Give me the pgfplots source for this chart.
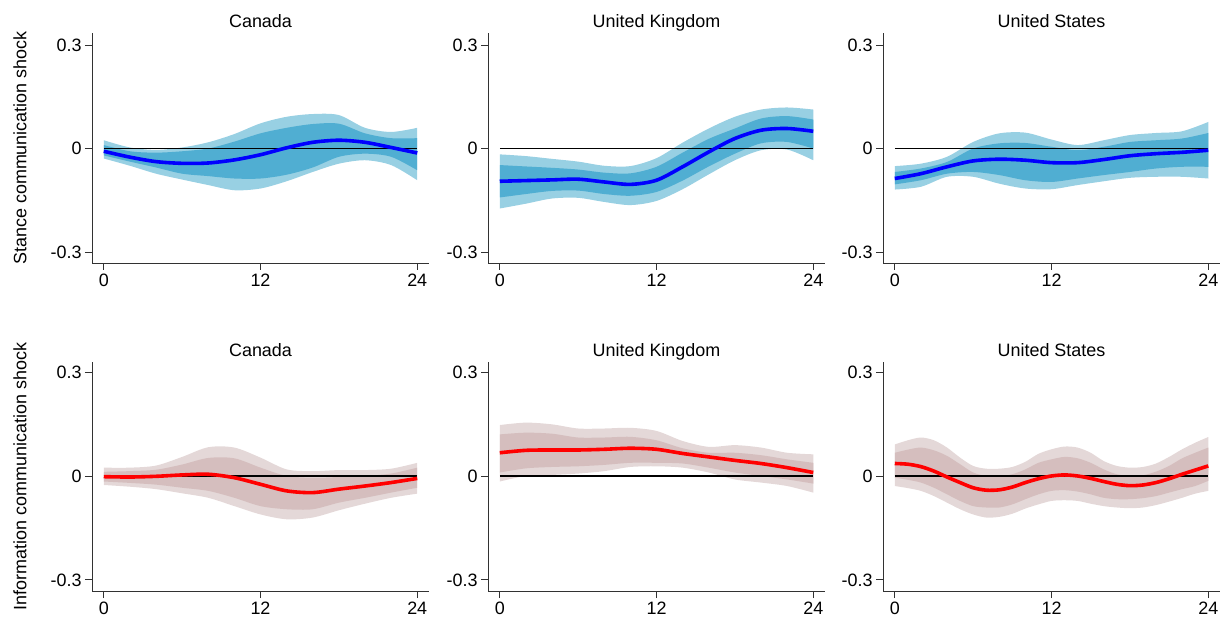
\documentclass[border=0pt]{standalone}
\usepackage{pgfplots}
\pgfplotsset{compat=1.18}
\usepackage{pgfplotstable}
\usepgfplotslibrary{fillbetween}
\usepackage{fontspec}
\setmainfont{Liberation Sans}

\definecolor{bOut}{RGB}{152,208,227}
\definecolor{bIn}{RGB}{80,174,210}
\definecolor{rOut}{RGB}{228,216,216}
\definecolor{rIn}{RGB}{213,190,190}
\definecolor{axgray}{RGB}{50,50,50}

\pgfplotstableread{
m c ou iu il ol
0 -0.008 0.024 0.010 -0.020 -0.029
2 -0.025 0.003 -0.008 -0.038 -0.050
4 -0.038 -0.004 -0.012 -0.055 -0.073
6 -0.043 0.003 -0.008 -0.073 -0.090
8 -0.042 0.018 0.000 -0.080 -0.106
10 -0.033 0.042 0.020 -0.087 -0.121
12 -0.018 0.073 0.044 -0.087 -0.116
14 0.002 0.092 0.060 -0.076 -0.095
16 0.018 0.100 0.071 -0.055 -0.068
18 0.024 0.097 0.072 -0.024 -0.044
20 0.018 0.060 0.044 -0.015 -0.034
22 0.003 0.048 0.030 -0.024 -0.048
24 -0.013 0.060 0.030 -0.063 -0.092
}\tA

\pgfplotstableread{
m c ou iu il ol
0 -0.095 -0.017 -0.048 -0.142 -0.174
2 -0.093 -0.022 -0.052 -0.132 -0.160
4 -0.091 -0.030 -0.056 -0.123 -0.145
6 -0.089 -0.038 -0.061 -0.122 -0.143
8 -0.097 -0.050 -0.070 -0.132 -0.155
10 -0.104 -0.051 -0.072 -0.137 -0.164
12 -0.092 -0.028 -0.053 -0.126 -0.152
14 -0.053 0.017 -0.012 -0.093 -0.118
16 -0.010 0.058 0.028 -0.052 -0.075
18 0.029 0.092 0.058 -0.015 -0.034
20 0.053 0.113 0.087 0.015 -0.005
22 0.058 0.119 0.094 0.019 -0.003
24 0.050 0.113 0.084 0.000 -0.034
}\tB

\pgfplotstableread{
m c ou iu il ol
0 -0.087 -0.051 -0.068 -0.104 -0.119
2 -0.073 -0.044 -0.058 -0.092 -0.111
4 -0.053 -0.024 -0.039 -0.073 -0.082
6 -0.036 0.019 0.000 -0.068 -0.082
8 -0.031 0.044 0.015 -0.077 -0.102
10 -0.034 0.046 0.016 -0.092 -0.116
12 -0.041 0.026 0.005 -0.097 -0.118
14 -0.041 0.010 -0.005 -0.087 -0.106
16 -0.032 0.024 0.005 -0.077 -0.095
18 -0.021 0.039 0.019 -0.068 -0.085
20 -0.015 0.045 0.024 -0.058 -0.082
22 -0.011 0.050 0.029 -0.053 -0.082
24 -0.005 0.077 0.045 -0.053 -0.087
}\tC

\pgfplotstableread{
m c ou iu il ol
0 -0.002 0.024 0.012 -0.016 -0.026
2 -0.003 0.024 0.014 -0.020 -0.031
4 -0.001 0.030 0.018 -0.025 -0.038
6 0.003 0.055 0.033 -0.034 -0.050
8 0.005 0.083 0.052 -0.043 -0.063
10 -0.005 0.082 0.051 -0.063 -0.087
12 -0.024 0.053 0.024 -0.087 -0.111
14 -0.043 0.019 0.000 -0.096 -0.125
16 -0.048 0.014 -0.005 -0.096 -0.120
18 -0.038 0.017 -0.003 -0.077 -0.099
20 -0.029 0.017 0.000 -0.063 -0.080
22 -0.019 0.021 0.007 -0.048 -0.063
24 -0.007 0.038 0.024 -0.034 -0.051
}\tD

\pgfplotstableread{
m c ou iu il ol
0 0.067 0.147 0.120 0.010 -0.016
2 0.074 0.154 0.125 0.022 0.000
4 0.075 0.149 0.122 0.026 0.003
6 0.075 0.137 0.111 0.028 0.007
8 0.077 0.137 0.111 0.032 0.014
10 0.080 0.139 0.113 0.038 0.026
12 0.077 0.130 0.103 0.038 0.028
14 0.065 0.101 0.080 0.036 0.024
16 0.055 0.084 0.067 0.024 0.010
18 0.045 0.089 0.067 0.010 -0.010
20 0.036 0.082 0.060 0.000 -0.019
22 0.024 0.067 0.048 -0.010 -0.029
24 0.010 0.0625 0.038 -0.022 -0.048
}\tE

\pgfplotstableread{
m c ou iu il ol
0 0.036 0.091 0.067 -0.005 -0.029
1 0.034 0.103 0.076 -0.011 -0.035
2 0.027 0.111 0.082 -0.019 -0.043
3 0.014 0.103 0.074 -0.034 -0.058
4 -0.003 0.082 0.058 -0.053 -0.077
5 -0.019 0.053 0.034 -0.072 -0.096
6 -0.034 0.029 0.010 -0.087 -0.111
7 -0.041 0.021 0.000 -0.091 -0.120
8 -0.040 0.021 -0.001 -0.091 -0.118
9 -0.032 0.026 0.005 -0.082 -0.109
10 -0.019 0.041 0.019 -0.067 -0.094
11 -0.008 0.064 0.038 -0.053 -0.082
12 0.000 0.077 0.048 -0.043 -0.072
13 0.003 0.085 0.055 -0.041 -0.070
14 0.000 0.082 0.051 -0.045 -0.072
15 -0.007 0.067 0.038 -0.053 -0.080
16 -0.016 0.043 0.019 -0.063 -0.087
17 -0.024 0.029 0.005 -0.067 -0.091
18 -0.028 0.024 0.000 -0.067 -0.093
19 -0.026 0.026 0.002 -0.064 -0.091
20 -0.019 0.036 0.0125 -0.058 -0.084
21 -0.008 0.055 0.029 -0.048 -0.074
22 0.005 0.077 0.051 -0.038 -0.063
23 0.017 0.096 0.067 -0.029 -0.051
24 0.029 0.1125 0.082 -0.014 -0.043
}\tF

\pgfplotsset{
  panel/.style={
    scale only axis, width=337bp, height=230bp,
    xmin=-0.9, xmax=24.9, ymin=-0.332, ymax=0.335,
    axis x line*=bottom, axis y line*=left,
    axis line style={-, axgray, line width=0.9bp},
    xtick={0,12,24}, ytick={-0.3,0,0.3},
    yticklabels={-0.3,0,0.3},
    tick align=outside, major tick length=7bp,
    tick style={axgray, line width=0.9bp},
    every tick label/.append style={font=\fontsize{18}{21}\selectfont},
    /pgf/number format/assume math mode=true,
    title style={font=\fontsize{18}{21}\selectfont, at={(0.5,1)}, anchor=base, yshift=0bp},
    ylabel style={font=\fontsize{18}{21}\selectfont, at={(axis description cs:-0.2136,0.5)}, anchor=center},
    no markers,
  },
  bottomrow/.style={height=229bp, ymax=0.329},
}

\newcommand{\bands}[4]{%
  \addplot[name path=ou, draw=none, smooth] table[x=m,y=ou]{#1};
  \addplot[name path=ol, draw=none, smooth] table[x=m,y=ol]{#1};
  \addplot[#2] fill between[of=ou and ol];
  \addplot[name path=iu, draw=none, smooth] table[x=m,y=iu]{#1};
  \addplot[name path=il, draw=none, smooth] table[x=m,y=il]{#1};
  \addplot[#3] fill between[of=iu and il];
  \addplot[black, line width=1.2bp] coordinates {(0,0) (24,0)};
  \addplot[#4, line width=3.6bp, smooth] table[x=m,y=c]{#1};
}

\begin{document}
\begin{tikzpicture}

\begin{axis}[panel, at={(92bp,358bp)}, anchor=south west, title={Canada}, ylabel={Stance communication shock}]
\bands{\tA}{bOut}{bIn}{blue}
\end{axis}
\begin{axis}[panel, at={(488bp,358bp)}, anchor=south west, title={United Kingdom}]
\bands{\tB}{bOut}{bIn}{blue}
\end{axis}
\begin{axis}[panel, at={(883bp,358bp)}, anchor=south west, title={United States}]
\bands{\tC}{bOut}{bIn}{blue}
\end{axis}

\begin{axis}[panel, bottomrow, at={(92bp,30bp)}, anchor=south west, title={Canada}, ylabel={Information communication shock}]
\bands{\tD}{rOut}{rIn}{red}
\end{axis}
\begin{axis}[panel, bottomrow, at={(488bp,30bp)}, anchor=south west, title={United Kingdom}]
\bands{\tE}{rOut}{rIn}{red}
\end{axis}
\begin{axis}[panel, bottomrow, at={(883bp,30bp)}, anchor=south west, title={United States}]
\bands{\tF}{rOut}{rIn}{red}
\end{axis}
\pgfresetboundingbox
\path[use as bounding box] (0,0) rectangle (1223bp,621bp);
\end{tikzpicture}
\end{document}
